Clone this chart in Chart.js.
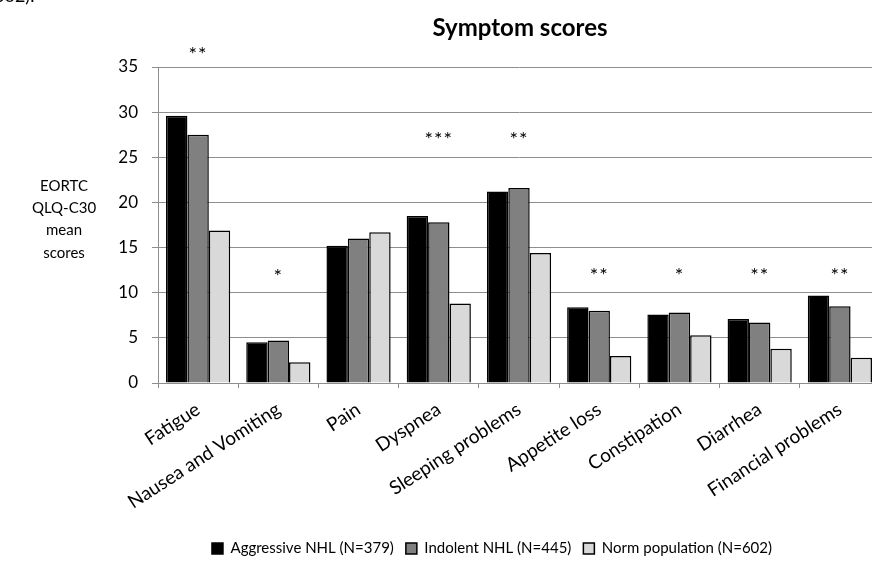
<!DOCTYPE html>
<html>
<head>
<meta charset="utf-8">
<script src="https://cdn.jsdelivr.net/npm/chart.js@4/dist/chart.umd.min.js"></script>
<style>
  html, body { margin: 0; padding: 0; background: #fff; overflow: hidden; width: 872px; height: 571px; }
  #wrap { position: relative; width: 960px; height: 571px; }
  #note { position: absolute; left: -6px; top: -16px; font: 18px Lato, sans-serif; color: #000; white-space: nowrap; }
  canvas { display: block; }
</style>
</head>
<body>
<div id="wrap">
  <div id="note">602).</div>
  <canvas id="chart" width="960" height="571"></canvas>
</div>
<script>
// EORTC QLQ-C30 symptom scales
const categories = ['Fatigue', 'Nausea and Vomiting', 'Pain', 'Dyspnea', 'Sleeping problems',
                    'Appetite loss', 'Constipation', 'Diarrhea', 'Financial problems'];
const aggressiveNHL = [29.6, 4.5, 15.2, 18.5, 21.2, 8.4, 7.6, 7.1, 9.7];
const indolentNHL   = [27.5, 4.7, 16.0, 17.8, 21.6, 8.0, 7.8, 6.7, 8.5];
const normPopulation = [16.9, 2.3, 16.7, 8.8, 14.4, 3.0, 5.3, 3.8, 2.8];
const seriesNames = ['Aggressive NHL (N=379)', 'Indolent NHL (N=445)', 'Norm population (N=602)'];
// significance markers and the score level each one sits at
const significance = ['**', '*', '', '***', '**', '**', '*', '**', '**'];
const markerLevel  = [36.9, 12.3, 0, 27.5, 27.5, 12.5, 12.5, 12.5, 12.5];
const yTicks = [0, 5, 10, 15, 20, 25, 30, 35];
const chartTitle = 'Symptom scores';
const yTitle = ['EORTC', 'QLQ-C30', 'mean', 'scores'];

const FONT = 'Lato, "Open Sans", sans-serif';
const GRID = '#8e8e8e';

const annotations = {
  id: 'annotations',
  afterDraw(chart) {
    const { ctx, scales: { x, y } } = chart;
    ctx.save();
    ctx.fillStyle = '#000';
    ctx.textAlign = 'center';
    ctx.textBaseline = 'middle';
    // title
    ctx.font = 'bold 24px ' + FONT;
    ctx.fillText(chartTitle, 520, 28);
    // y axis title
    ctx.font = '15px ' + FONT;
    yTitle.forEach((t, i) => ctx.fillText(t, 64, 186 + i * 22.3));
    // significance markers
    ctx.font = '20px ' + FONT;
    ctx.letterSpacing = '1px';
    significance.forEach((s, i) => {
      if (!s) return;
      ctx.fillText(s, x.getPixelForValue(i), y.getPixelForValue(markerLevel[i]) + 5);
    });
    ctx.restore();
  }
};

new Chart(document.getElementById('chart'), {
  type: 'bar',
  data: {
    labels: categories,
    datasets: [
      { label: seriesNames[0], data: aggressiveNHL, backgroundColor: '#000000' },
      { label: seriesNames[1], data: indolentNHL, backgroundColor: '#808080' },
      { label: seriesNames[2], data: normPopulation, backgroundColor: '#d9d9d9' }
    ].map(d => Object.assign(d, { borderColor: '#000', borderWidth: 1.5, borderSkipped: 'bottom' }))
  },
  options: {
    responsive: false,
    animation: false,
    events: [],
    datasets: { bar: { categoryPercentage: 0.8, barPercentage: 1.0 } },
    layout: { padding: { left: 104, right: 80, top: 67, bottom: 5 } },
    plugins: {
      title: { display: false },
      tooltip: { enabled: false },
      legend: {
        position: 'bottom',
        labels: {
          color: '#000',
          font: { family: FONT, size: 15 },
          boxWidth: 11,
          boxHeight: 11,
          padding: 12
        }
      }
    },
    scales: {
      x: {
        afterFit(scale) { scale.height = 146; },
        grid: { display: true, drawOnChartArea: false, drawTicks: true, tickLength: 5, color: GRID, offset: true },
        border: { display: true, color: GRID, width: 1 },
        ticks: {
          color: '#000',
          font: { family: FONT, size: 19 },
          minRotation: 33,
          maxRotation: 33,
          autoSkip: false,
          padding: 10
        }
      },
      y: {
        min: 0,
        max: 35,
        afterFit(scale) { scale.width = 54; },
        afterBuildTicks(scale) { scale.ticks = yTicks.map(v => ({ value: v })); },
        grid: { color: GRID, lineWidth: 1, drawTicks: true, tickLength: 6 },
        border: { display: true, color: GRID, width: 1 },
        ticks: {
          color: '#000',
          font: { family: FONT, size: 17 },
          padding: 14
        }
      }
    }
  },
  plugins: [annotations]
});
</script>
</body>
</html>
